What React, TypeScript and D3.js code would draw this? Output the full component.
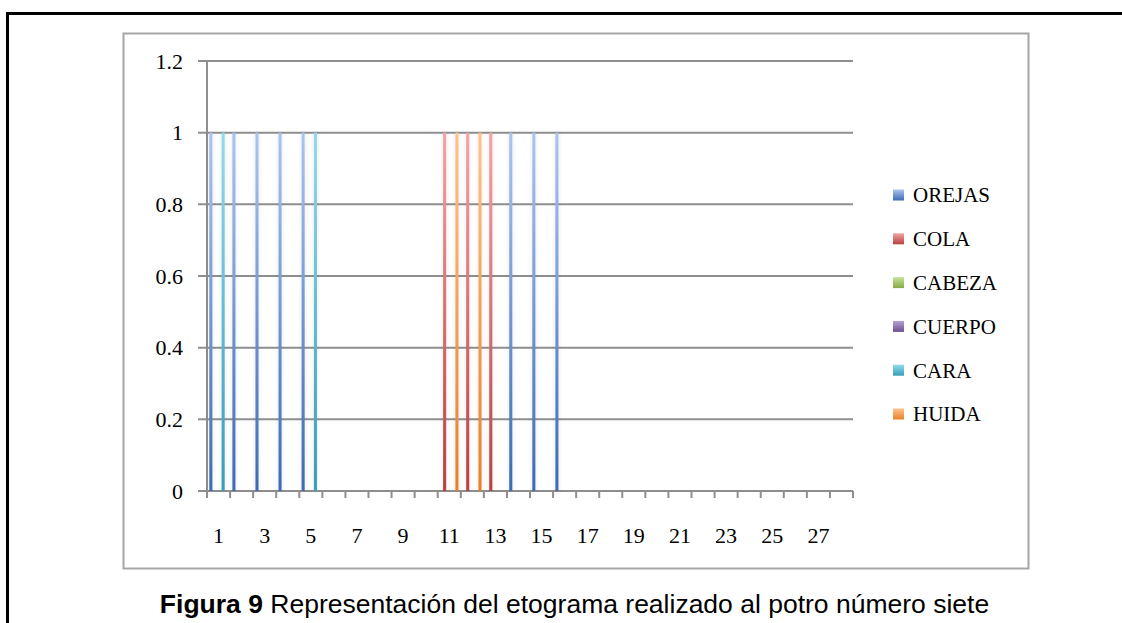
import React from "react";
import * as d3 from "d3";

// Observation sessions along the x axis
const categories: number[] = d3.range(1, 29);

// Behaviour series (1 = observed in that session)
const seriesNames = ["OREJAS", "COLA", "CABEZA", "CUERPO", "CARA", "HUIDA"];
const orejas = [1, 1, 1, 1, 1, 0, 0, 0, 0, 0, 0, 0, 0, 1, 1, 1, 0, 0, 0, 0, 0, 0, 0, 0, 0, 0, 0, 0];
const cola = [0, 0, 0, 0, 0, 0, 0, 0, 0, 0, 1, 1, 1, 0, 0, 0, 0, 0, 0, 0, 0, 0, 0, 0, 0, 0, 0, 0];
const cabeza = [0, 0, 0, 0, 0, 0, 0, 0, 0, 0, 0, 0, 0, 0, 0, 0, 0, 0, 0, 0, 0, 0, 0, 0, 0, 0, 0, 0];
const cuerpo = [0, 0, 0, 0, 0, 0, 0, 0, 0, 0, 0, 0, 0, 0, 0, 0, 0, 0, 0, 0, 0, 0, 0, 0, 0, 0, 0, 0];
const cara = [1, 0, 0, 0, 1, 0, 0, 0, 0, 0, 0, 0, 0, 0, 0, 0, 0, 0, 0, 0, 0, 0, 0, 0, 0, 0, 0, 0];
const huida = [0, 0, 0, 0, 0, 0, 0, 0, 0, 0, 1, 1, 0, 0, 0, 0, 0, 0, 0, 0, 0, 0, 0, 0, 0, 0, 0, 0];
const seriesValues = [orejas, cola, cabeza, cuerpo, cara, huida];

const yTicks = [0, 0.2, 0.4, 0.6, 0.8, 1, 1.2];

const caption = "Representación del etograma realizado al potro número siete";

// top / bottom gradient colours per series
const palette: [string, string][] = [
  ["#aac4f0", "#3c6bb4"],
  ["#f3a4a4", "#b8413f"],
  ["#c9e39a", "#86a845"],
  ["#b9a2d6", "#6b4f90"],
  ["#93daee", "#379db9"],
  ["#fcc38c", "#e97f27"],
];

const W = 1122;
const H = 623;
const plot = { left: 207, right: 853, top: 61, bottom: 491 };

export default function App() {
  const x0 = d3
    .scaleBand<number>()
    .domain(categories)
    .range([plot.left, plot.right])
    .padding(0);
  const x1 = d3
    .scaleBand<string>()
    .domain(seriesNames)
    .range([0, x0.bandwidth()])
    .paddingInner(0)
    .paddingOuter(0.75);
  const y = d3.scaleLinear().domain([0, 1.2]).range([plot.bottom, plot.top]);

  const gridColor = "#8e8e8e";
  const serif = "'Liberation Serif', 'Times New Roman', serif";
  const boundaries = d3.range(0, categories.length + 1).map((i) => plot.left + i * x0.step());

  const legendTop = 195;
  const legendGap = 43.8;

  return (
    <svg
      width={W}
      height={H}
      style={{ position: "absolute", left: 0, top: 0, background: "#fff" }}
      fontFamily={serif}
    >
      <defs>
        {palette.map(([top, bottom], i) => (
          <linearGradient key={i} id={`grad-${i}`} x1="0" y1="0" x2="0" y2="1">
            <stop offset="0%" stopColor={top} />
            <stop offset="100%" stopColor={bottom} />
          </linearGradient>
        ))}
        <filter id="barShadow" x="-300%" y="-5%" width="700%" height="110%">
          <feGaussianBlur in="SourceAlpha" stdDeviation="2" />
          <feOffset dx="0" dy="0" />
          <feComponentTransfer>
            <feFuncA type="linear" slope="0.12" />
          </feComponentTransfer>
          <feMerge>
            <feMergeNode />
            <feMergeNode in="SourceGraphic" />
          </feMerge>
        </filter>
      </defs>

      {/* page frame */}
      <path d={`M7.5,${H} V13.5 H${W}`} fill="none" stroke="#000" strokeWidth={3} />

      {/* chart area border */}
      <rect x={123.5} y={33.5} width={905} height={535} fill="#fff" stroke="#a6a6a6" strokeWidth={2} />

      {/* horizontal gridlines and y ticks */}
      {yTicks.map((t) => (
        <line
          key={t}
          x1={198}
          x2={plot.right}
          y1={y(t)}
          y2={y(t)}
          stroke={gridColor}
          strokeWidth={2}
        />
      ))}
      {/* y axis */}
      <line x1={plot.left} x2={plot.left} y1={plot.top} y2={plot.bottom} stroke={gridColor} strokeWidth={2} />
      {yTicks.map((t) => (
        <text
          key={t}
          x={183}
          y={y(t)}
          dy="0.35em"
          textAnchor="end"
          fontSize={22}
          fill="#000"
        >
          {String(t)}
        </text>
      ))}

      {/* x axis ticks */}
      {boundaries.map((bx, i) => (
        <line key={i} x1={bx} x2={bx} y1={plot.bottom} y2={plot.bottom + 7} stroke={gridColor} strokeWidth={2} />
      ))}
      {categories.map((c) =>
        c % 2 === 1 ? (
          <text
            key={c}
            x={(x0(c) ?? 0) + x0.bandwidth() / 2}
            y={543}
            textAnchor="middle"
            fontSize={22}
            fill="#000"
          >
            {c}
          </text>
        ) : null
      )}

      {/* bars */}
      <g filter="url(#barShadow)">
        {seriesValues.map((vals, si) =>
          vals.map((v, ci) =>
            v > 0 ? (
              <rect
                key={`${si}-${ci}`}
                x={(x0(categories[ci]) ?? 0) + (x1(seriesNames[si]) ?? 0)}
                y={y(v)}
                width={x1.bandwidth()}
                height={y(0) - y(v)}
                fill={`url(#grad-${si})`}
              />
            ) : null
          )
        )}
      </g>

      {/* legend */}
      {seriesNames.map((name, i) => (
        <g key={name} transform={`translate(893, ${legendTop + i * legendGap})`}>
          <rect x={0} y={-5.5} width={11} height={11} fill={`url(#grad-${i})`} />
          <text x={20} y={0} dy="0.35em" fontSize={21} fill="#000">
            {name}
          </text>
        </g>
      ))}

      {/* figure caption */}
      <text
        x={574.5}
        y={613}
        textAnchor="middle"
        fontSize={26.5}
        fontFamily="'Liberation Sans', Arial, sans-serif"
        fill="#000"
      >
        <tspan fontWeight="bold">Figura 9</tspan>
        <tspan> {caption}</tspan>
      </text>
    </svg>
  );
}
